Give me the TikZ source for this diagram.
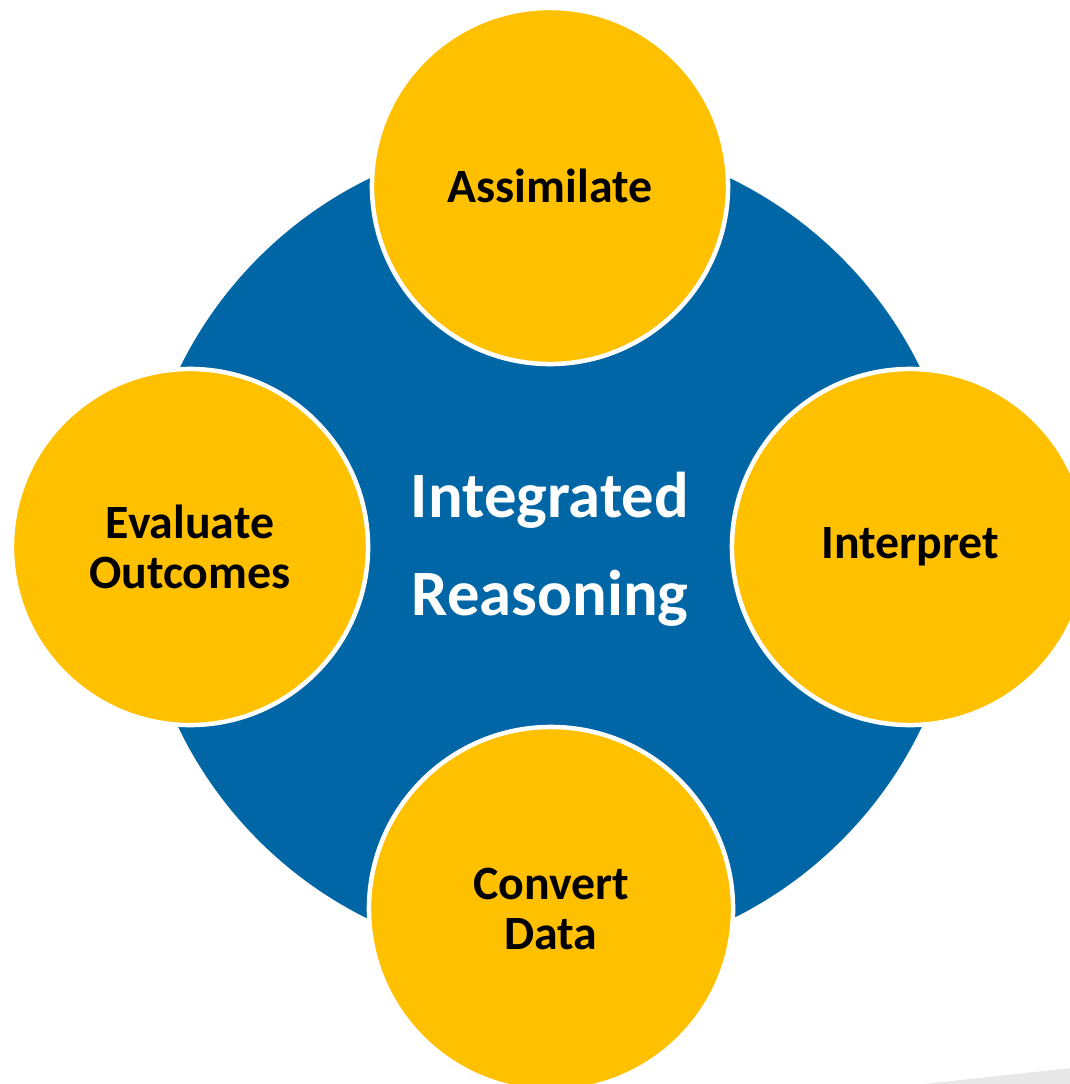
\documentclass[tikz,border=0pt]{standalone}
\usepackage{fontspec}
\setmainfont{Carlito}
\usepackage{tikz}
\usetikzlibrary{positioning}
\definecolor{hubblue}{RGB}{0,102,166}
\definecolor{stageyellow}{RGB}{255,192,0}

\begin{document}
\begin{tikzpicture}
          [x=0.025cm, y=-0.025cm,
           hub/.style={circle, fill=hubblue, minimum size=20.6cm, inner sep=0pt,
                       text=white, align=center, font=\fontsize{46}{70}\selectfont\bfseries},
           stage/.style={circle, fill=stageyellow, draw=white, line width=3.2pt,
                         minimum size=8.9cm, inner sep=0pt, text=black, align=center,
                         font=\fontsize{34}{36}\selectfont\bfseries}]
          \useasboundingbox (0,0) rectangle (1070,1084);
          \clip (0,0) rectangle (1070,1084);
          \fill[white] (0,0) rectangle (1070,1084);

          \node (ir) [hub] at (550,549) {Integrated\\Reasoning};

          \node (assim) [stage] at (550,186) {Assimilate};
          \node (interp) [stage] at (910,547) {Interpret};
          \node (conv) [stage, minimum size=9.1cm] at (551,909) {Convert\\Data};
          \node (eval) [stage] at (190,547) {Evaluate\\Outcomes};

          % faint shadow in the corner
          \fill[gray!18] (925,1084) -- (1070,1068) -- (1070,1084) -- cycle;
        \end{tikzpicture}
\end{document}
